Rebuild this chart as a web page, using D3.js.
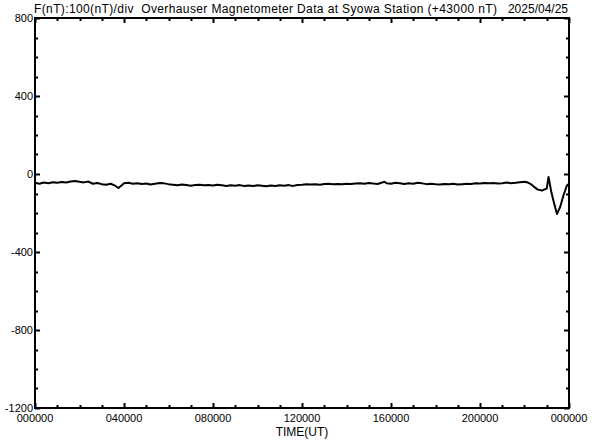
<!DOCTYPE html>
<html>
<head>
<meta charset="utf-8">
<script src="https://cdn.jsdelivr.net/npm/d3@7"></script>
<style>
  html, body { margin: 0; padding: 0; background: #fff; }
  svg { display: block; }
  text { font-family: "Liberation Sans", Arial, sans-serif; fill: #000; white-space: pre; }
</style>
</head>
<body>
<svg id="chart" width="592" height="440"></svg>
<script>
// ---- data ----
const titleText = "F(nT):100(nT)/div  Overhauser Magnetometer Data at Syowa Station (+43000 nT)";
const dateText = "2025/04/25";
const xLabel = "TIME(UT)";
const xTickHours = [0, 4, 8, 12, 16, 20, 24];
const xTickLabels = ["000000", "040000", "080000", "120000", "160000", "200000", "000000"];
const yTickValues = [800, 400, 0, -400, -800, -1200];
// time in hours (UT)
const timeHours = [0.0, 0.2, 0.4, 0.6, 0.8, 1.0, 1.2, 1.4, 1.6, 1.8, 2.0, 2.2, 2.4, 2.6, 2.8, 3.0,
  3.2, 3.4, 3.6, 3.75, 3.9, 4.0, 4.2, 4.4, 4.6, 4.8, 5.0, 5.2, 5.4, 5.6, 5.8, 6.0, 6.2, 6.4, 6.6,
  6.8, 7.0, 7.2, 7.4, 7.6, 7.8, 8.0, 8.2, 8.4, 8.6, 8.8, 9.0, 9.2, 9.4, 9.6, 9.8, 10.0, 10.2, 10.4,
  10.6, 10.8, 11.0, 11.2, 11.4, 11.6, 11.8, 12.0, 12.2, 12.4, 12.6, 12.8, 13.0, 13.2, 13.4, 13.6,
  13.8, 14.0, 14.2, 14.4, 14.6, 14.8, 15.0, 15.2, 15.4, 15.6, 15.7, 15.8, 16.0, 16.2, 16.4, 16.6,
  16.8, 17.0, 17.2, 17.4, 17.6, 17.8, 18.0, 18.2, 18.4, 18.6, 18.8, 19.0, 19.2, 19.4, 19.6, 19.8,
  20.0, 20.2, 20.4, 20.6, 20.8, 21.0, 21.2, 21.4, 21.6, 21.8, 22.0, 22.15, 22.29, 22.43, 22.6,
  22.79, 22.92, 23.0, 23.08, 23.2, 23.33, 23.46, 23.6, 23.75, 23.9, 24.0];
// F - 43000 nT
const fValues = [-45, -50, -44, -47, -42, -45, -41, -44, -38, -36, -40, -43, -39, -50, -46, -52,
  -55, -50, -60, -72, -58, -48, -45, -50, -47, -51, -49, -54, -50, -46, -48, -52, -55, -58, -54,
  -57, -60, -57, -55, -58, -56, -59, -55, -58, -62, -58, -60, -57, -61, -59, -62, -58, -60, -63,
  -59, -61, -58, -60, -57, -61, -56, -55, -52, -54, -52, -55, -51, -50, -53, -51,
  -52, -50, -51, -49, -48, -50, -46, -49, -51, -44, -40, -47, -50, -45, -47, -51,
  -48, -50, -45, -48, -52, -50, -53, -54, -51, -53, -50, -54, -52, -50, -51, -48,
  -49, -46, -48, -46, -49, -47, -44, -47, -45, -42, -40, -44, -52, -66, -80,
  -85, -78, -75, -15, -90, -150, -205, -170, -110, -60, -50];

// ---- layout ----
const svg = d3.select("#chart");
const L = 35, R = 569, T = 18, B = 408;
const x = d3.scaleLinear().domain([0, 24]).range([L, R]);
const y = d3.scaleLinear().domain([-1200, 800]).range([B, T]);

const xMinor = d3.range(0, 25, 1);
const yMinor = d3.range(-1200, 801, 100);

const g = svg.append("g");

// frame
g.append("rect").attr("x", L).attr("y", T).attr("width", R - L).attr("height", B - T)
  .attr("fill", "none").attr("stroke", "#000").attr("stroke-width", 2);

function tickLen(isMajor) { return isMajor ? 5 : 3; }
xMinor.forEach(h => {
  const major = h % 4 === 0;
  const xx = Math.round(x(h)) + 0.5;
  g.append("line").attr("x1", xx).attr("x2", xx).attr("y1", B).attr("y2", B - tickLen(major))
    .attr("stroke", "#000").attr("stroke-width", 2);
  g.append("line").attr("x1", xx).attr("x2", xx).attr("y1", T).attr("y2", T + tickLen(major))
    .attr("stroke", "#000").attr("stroke-width", 2);
});
yMinor.forEach(v => {
  const major = v % 400 === 0;
  const yy = Math.round(y(v)) + 0.5;
  g.append("line").attr("x1", L).attr("x2", L + tickLen(major)).attr("y1", yy).attr("y2", yy)
    .attr("stroke", "#000").attr("stroke-width", 2);
  g.append("line").attr("x1", R).attr("x2", R - tickLen(major)).attr("y1", yy).attr("y2", yy)
    .attr("stroke", "#000").attr("stroke-width", 2);
});

// tick labels
xTickHours.forEach((h, i) => {
  g.append("text").attr("x", x(h)).attr("y", 422).attr("text-anchor", "middle")
    .attr("font-size", 11).text(xTickLabels[i]);
});
yTickValues.forEach(v => {
  g.append("text").attr("x", 33).attr("y", y(v) + 4).attr("text-anchor", "end")
    .attr("font-size", 11).text(v);
});

// axis title
g.append("text").attr("x", 302).attr("y", 436).attr("text-anchor", "middle")
  .attr("font-size", 12).text(xLabel);

// title
g.append("text").attr("x", 34).attr("y", 13).attr("font-size", 12)
  .attr("textLength", 463).attr("lengthAdjust", "spacing").text(titleText);
g.append("text").attr("x", 568).attr("y", 13).attr("text-anchor", "end").attr("font-size", 12).text(dateText);

// data line
const pts = timeHours.map((t, i) => [t, fValues[i]]);
const line = d3.line().x(d => x(d[0])).y(d => y(d[1]));
g.append("path").datum(pts).attr("d", line).attr("fill", "none")
  .attr("stroke", "#000").attr("stroke-width", 2).attr("stroke-linejoin", "round");
</script>
</body>
</html>
